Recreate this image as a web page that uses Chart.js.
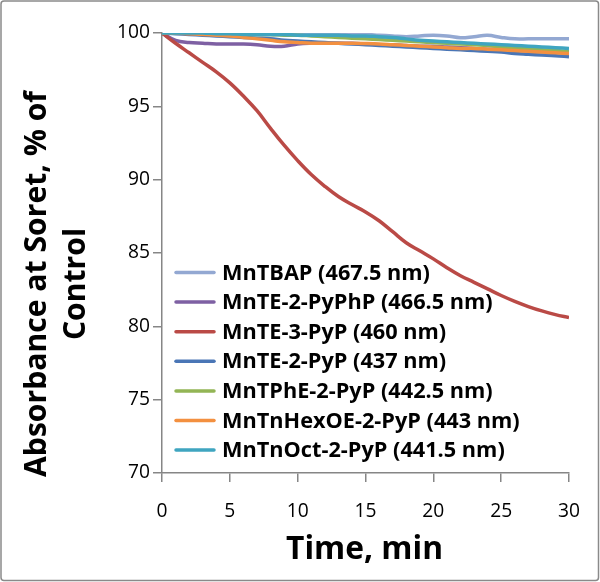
<!DOCTYPE html>
<html>
<head>
<meta charset="utf-8">
<script src="https://cdn.jsdelivr.net/npm/chart.js@4.4.1/dist/chart.umd.min.js"></script>
<style>
html,body{margin:0;padding:0;background:#fff;}
#wrap{width:600px;height:582px;position:relative;}
canvas{display:block;}
</style>
</head>
<body>
<div id="wrap"><canvas id="c" width="600" height="582"></canvas></div>
<script>
// ---- data ----
const times = [0,1,2,3,4,5,6,7,8,9,10,11,12,13,14,15,16,17,18,19,20,21,22,23,24,25,26,27,28,29,30];
const seriesNames = [
  "MnTBAP (467.5 nm)",
  "MnTE-2-PyPhP (466.5 nm)",
  "MnTE-3-PyP (460 nm)",
  "MnTE-2-PyP (437 nm)",
  "MnTPhE-2-PyP (442.5 nm)",
  "MnTnHexOE-2-PyP (443 nm)",
  "MnTnOct-2-PyP (441.5 nm)"
];
const mnTBAP     = [100,100,100,99.95,99.95,99.9,99.9,99.9,99.9,99.9,99.9,99.9,99.9,99.9,99.9,99.9,99.85,99.8,99.75,99.8,99.85,99.8,99.68,99.75,99.84,99.7,99.6,99.6,99.6,99.6,99.6];
const mnTE2PyPhP = [100,99.5,99.35,99.3,99.25,99.25,99.25,99.2,99.1,99.1,99.25,99.3,99.3,99.3,99.3,99.25,99.2,99.2,99.15,99.1,99.1,99.05,99.0,98.95,98.9,98.9,98.85,98.8,98.75,98.7,98.65];
const mnTE3PyP   = [100,99.3,98.65,98.0,97.35,96.6,95.7,94.7,93.5,92.35,91.3,90.35,89.55,88.85,88.3,87.8,87.2,86.45,85.7,85.15,84.6,84.0,83.45,83.0,82.55,82.1,81.7,81.35,81.05,80.8,80.6];
const mnTE2PyP   = [100,99.95,99.9,99.85,99.8,99.75,99.7,99.65,99.6,99.5,99.45,99.4,99.35,99.3,99.25,99.2,99.15,99.1,99.05,99.0,98.95,98.9,98.85,98.8,98.75,98.7,98.6,98.55,98.5,98.45,98.38];
const mnTPhE2PyP = [100,100,100,99.95,99.95,99.9,99.9,99.9,99.9,99.85,99.85,99.8,99.75,99.7,99.65,99.6,99.55,99.5,99.45,99.4,99.35,99.3,99.25,99.2,99.15,99.05,99.0,98.95,98.85,98.8,98.72];
const mnTnHexOE  = [100,100,99.95,99.9,99.85,99.8,99.7,99.6,99.5,99.4,99.35,99.3,99.3,99.3,99.3,99.28,99.25,99.2,99.15,99.1,99.05,99.0,98.95,98.95,98.9,98.85,98.8,98.75,98.7,98.65,98.6];
const mnTnOct    = [100,100,100,100,99.95,99.95,99.9,99.9,99.9,99.9,99.85,99.85,99.85,99.85,99.8,99.8,99.75,99.7,99.6,99.5,99.45,99.4,99.35,99.3,99.25,99.2,99.15,99.1,99.05,99.0,98.95];
const xTicks = [0,5,10,15,20,25,30];
const yTicks = [70,75,80,85,90,95,100];
const xTitle = "Time, min";
const yTitleLines = ["Absorbance at Soret, % of", "Control"];

const seriesValues = [mnTBAP, mnTE2PyPhP, mnTE3PyP, mnTE2PyP, mnTPhE2PyP, mnTnHexOE, mnTnOct];
const colors = ['#93A8D2','#7E60A3','#BA4A46','#4A76B6','#93B555','#F39040','#3FA5C0'];

const axisColor = '#868686';
const FONT = '"Open Sans", Lato, sans-serif';

// font size that makes a text reach a target width
const mctx = document.createElement('canvas').getContext('2d');
function fitSize(text, weight, target) {
  mctx.font = weight + ' 100px ' + FONT;
  return 100 * target / mctx.measureText(text).width;
}
const tickSize = fitSize('100', 'normal', 33);
const yTitleSize = fitSize(yTitleLines[0], 'bold', 386);
const xTitleSize = fitSize(xTitle, 'bold', 157);
const legendSize = fitSize(seriesNames[0], 'bold', 208);

const datasets = seriesValues.map((vals, i) => ({
  label: seriesNames[i],
  data: vals.map((v, j) => ({x: times[j], y: v})),
  borderColor: colors[i],
  backgroundColor: colors[i],
  borderWidth: 3.5,
  pointRadius: 0,
  tension: 0.4,
  fill: false,
  order: seriesValues.length - i
}));

const deco = {
  id: 'deco',
  beforeDraw(chart) {
    const ctx = chart.ctx;
    ctx.save();
    ctx.fillStyle = '#fff';
    ctx.fillRect(0, 0, chart.width, chart.height);
    ctx.restore();
  },
  afterDraw(chart) {
    const ctx = chart.ctx;
    const ca = chart.chartArea;
    ctx.save();
    // outer border
    ctx.strokeStyle = '#8a8a8a';
    ctx.lineWidth = 1.5;
    ctx.beginPath();
    if (ctx.roundRect) ctx.roundRect(1, 1, chart.width - 2.5, chart.height - 2.5, 3);
    else ctx.rect(1, 1, chart.width - 2.5, chart.height - 2.5);
    ctx.stroke();

    ctx.fillStyle = '#000';
    // y title
    ctx.save();
    ctx.translate(0, 284);
    ctx.rotate(-Math.PI / 2);
    ctx.font = 'bold ' + yTitleSize + 'px ' + FONT;
    ctx.textAlign = 'center';
    ctx.textBaseline = 'middle';
    ctx.fillText(yTitleLines[0], 0, 37);
    ctx.fillText(yTitleLines[1], 0, 76);
    ctx.restore();

    // x title
    ctx.font = 'bold ' + xTitleSize + 'px ' + FONT;
    ctx.textAlign = 'center';
    ctx.textBaseline = 'middle';
    ctx.fillText(xTitle, (ca.left + ca.right) / 2 - 1, 550);

    // legend
    const rowY0 = 272.5, rowStep = 29.6;
    ctx.font = 'bold ' + legendSize + 'px ' + FONT;
    ctx.textAlign = 'left';
    ctx.textBaseline = 'middle';
    chart.data.datasets.forEach((ds, i) => {
      const y = rowY0 + i * rowStep;
      ctx.strokeStyle = ds.borderColor;
      ctx.lineWidth = 3.5;
      ctx.lineCap = 'round';
      ctx.beginPath();
      ctx.moveTo(176, y);
      ctx.lineTo(214, y);
      ctx.stroke();
      ctx.fillStyle = '#000';
      ctx.fillText(ds.label, 222, y + 1);
    });
    ctx.restore();
  }
};

new Chart(document.getElementById('c'), {
  type: 'line',
  data: { datasets },
  options: {
    responsive: false,
    animation: false,
    events: [],
    layout: { padding: { left: 0, top: 33, right: 31, bottom: 0 } },
    plugins: { legend: { display: false }, tooltip: { enabled: false }, title: { display: false } },
    scales: {
      x: {
        type: 'linear',
        min: 0, max: 30,
        afterBuildTicks(scale) { scale.ticks = xTicks.map(v => ({value: v})); },
        afterFit(scale) { scale.height = 109; },
        border: { display: true, color: axisColor, width: 1.5 },
        grid: { display: true, drawOnChartArea: false, drawTicks: true, tickLength: 9, color: axisColor, lineWidth: 1.5 },
        ticks: { color: '#000', font: { family: FONT, size: tickSize }, padding: 18, maxRotation: 0, autoSkip: false }
      },
      y: {
        type: 'linear',
        min: 70, max: 100,
        afterBuildTicks(scale) { scale.ticks = yTicks.map(v => ({value: v})); },
        afterFit(scale) { scale.width = 162; },
        border: { display: true, color: axisColor, width: 1.5 },
        grid: { display: true, drawOnChartArea: false, drawTicks: true, tickLength: 9, color: axisColor, lineWidth: 1.5 },
        ticks: { color: '#000', font: { family: FONT, size: tickSize }, padding: 3 }
      }
    }
  },
  plugins: [deco]
});
</script>
</body>
</html>
